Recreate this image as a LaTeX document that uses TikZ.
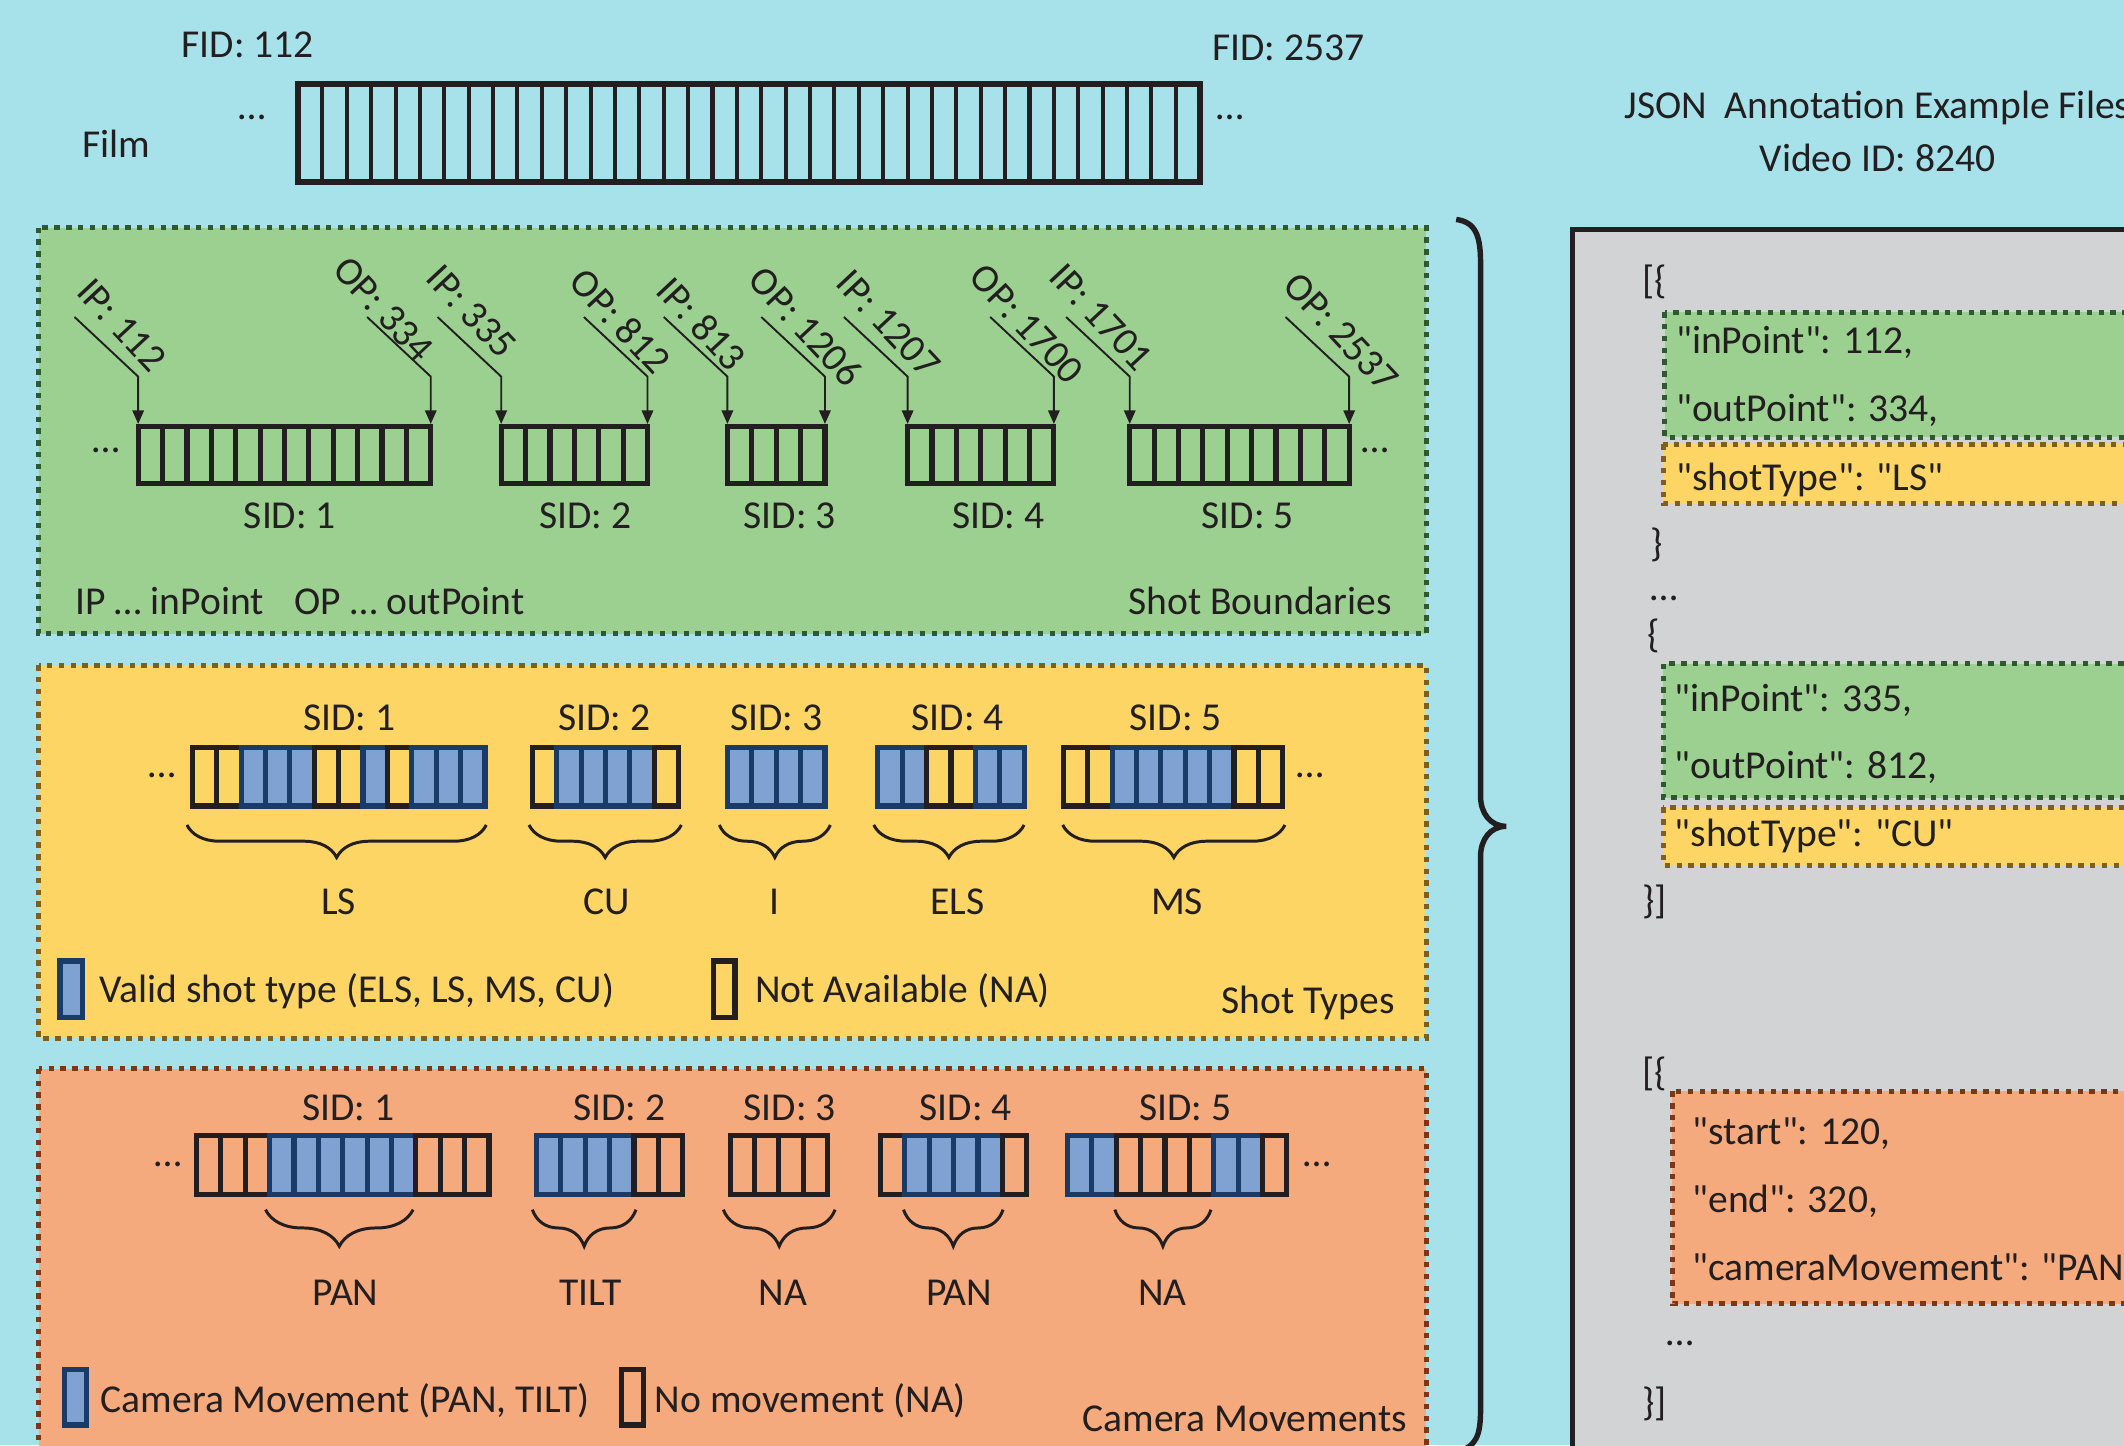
\documentclass[tikz,border=0pt]{standalone}
\usepackage{fontspec}
\setmainfont{Carlito}
\newfontfamily\jfont{Carlito}[Ligatures=TeXOff]
\usetikzlibrary{arrows.meta,decorations.pathreplacing}
\definecolor{bgc}{HTML}{A7E2EB}
\definecolor{grn}{HTML}{9BD091}
\definecolor{grnb}{HTML}{2E5A2E}
\definecolor{yel}{HTML}{FDD565}
\definecolor{yelb}{HTML}{7D5F1E}
\definecolor{org}{HTML}{F5AA7D}
\definecolor{orgb}{HTML}{7D3714}
\definecolor{gry}{HTML}{D1D3D4}
\definecolor{blu}{HTML}{7FA2D2}
\definecolor{nav}{HTML}{1A3A68}
\definecolor{txt}{HTML}{231F20}
\newcommand{\fsz}{\fontsize{14.6pt}{17.5pt}\selectfont}
\newcommand{\cellstrip}[4]{% x0, ytop, ybottom, pattern
  \foreach \c [count=\i from 0] in {#4} {
    \if\c B
      \draw[bcell] (#1+\i*18,#2) rectangle (#1+\i*18+18,#3);
    \else
      \draw[ncell] (#1+\i*18,#2) rectangle (#1+\i*18+18,#3);
    \fi
  }
}
\begin{document}
\begin{tikzpicture}[x=0.5pt,y=-0.5pt,
  lbl/.style={font=\fsz, text=txt, inner sep=0pt, anchor=base},
  lbll/.style={lbl, anchor=base west},
  lblr/.style={lbl, anchor=base east},
  jlbl/.style={font=\fsz\jfont, text=txt, inner sep=0pt, anchor=base west},
  rlbl/.style={font=\fsz, text=txt, inner sep=0pt, rotate=-47, anchor=center},
  ncell/.style={draw=txt, line width=1.9pt},
  bcell/.style={draw=nav, fill=blu, line width=1.9pt},
  arr/.style={draw=txt, line width=0.7pt, -{Triangle[length=5pt,width=4.2pt]}},
  brc/.style={decorate, decoration={brace, mirror, amplitude=#1}, line width=1.1pt, draw=txt},
  panel/.style={line width=1.85pt, dash pattern=on 2pt off 2.36pt},
  panelG/.style={panel, fill=grn, draw=grnb},
  panelY/.style={panel, fill=yel, draw=yelb},
  panelO/.style={panel, fill=org, draw=orgb},
]
\useasboundingbox (0,0) rectangle (1568,1067);
\begin{scope}
\clip (0,0) rectangle (1568,1067);
\fill[bgc] (0,0) rectangle (1568,1067);

% ---------- Film ----------
\node[lbl] (fid1) at (183,42.4) {FID: 112};
\node[lbl] (fid2) at (951,44.4) {FID: 2537};
\node[lbl] (film) at (86,116.4) {Film};
\node[lbl] (fdl) at (186,88) {…};
\node[lbl] (fdr) at (908,88) {…};
\foreach \i in {1,...,36} \draw[line width=1.5pt, txt] (220+\i*18,62) -- (220+\i*18,134.5);
\draw[line width=2.2pt, txt] (220,62) rectangle (886,134.5);

% ---------- JSON title ----------
\node[lbl] (jt1) at (1386,87.4) {JSON\ \ Annotation Example Files};
\node[lbl] (jt2) at (1386,126.4) {Video ID: 8240};

% ---------- Panels ----------
\draw[panelG] (28.5,168) rectangle (1053,468);
\draw[panelY] (28.5,491) rectangle (1053,766.5);
\draw[panelO] (28.5,789) rectangle (1053,1100);

% ---------- Shot boundaries ----------
\cellstrip{102}{315}{357}{N,N,N,N,N,N,N,N,N,N,N,N}
\cellstrip{370}{315}{357}{N,N,N,N,N,N}
\cellstrip{537}{315}{357}{N,N,N,N}
\cellstrip{670}{315}{357}{N,N,N,N,N,N}
\cellstrip{834}{315}{357}{N,N,N,N,N,N,N,N,N}
\foreach \x/\n in {102/a,318/b,370/c,478/d,537/e,609/f,670/g,778/h,834/i,996/j}{
  \coordinate (st\n) at (\x-47,234);
  \coordinate (kn\n) at (\x,278);
  \coordinate (tp\n) at (\x,313);
  \draw[arr] (st\n) -- (kn\n) -- (tp\n);
}
\node[rlbl] (ipa) at (90,240) {IP: 112};
\node[rlbl] (opb) at (283,228) {OP: 334};
\node[rlbl] (ipc) at (348,230) {IP: 335};
\node[rlbl] (opd) at (458,237) {OP: 812};
\node[rlbl] (ipe) at (518,239) {IP: 813};
\node[rlbl] (opf) at (595,241) {OP: 1206};
\node[rlbl] (ipg) at (656,239) {IP: 1207};
\node[rlbl] (oph) at (758,239) {OP: 1700};
\node[rlbl] (ipi) at (813,234) {IP: 1701};
\node[rlbl] (opj) at (990,245) {OP: 2537};
\node[lbl] (gd1) at (78,334) {…};
\node[lbl] (gd2) at (1015,334) {…};
\node[lbl] (gs1) at (214,390.4) {SID: 1};
\node[lbl] (gs2) at (432,390.4) {SID: 2};
\node[lbl] (gs3) at (583,390.4) {SID: 3};
\node[lbl] (gs4) at (737,390.4) {SID: 4};
\node[lbl] (gs5) at (921,390.4) {SID: 5};
\node[lbll] (gl1) at (55,453.4) {IP … inPoint};
\node[lbll] (gl2) at (217,453.4) {OP … outPoint};
\node[lblr] (gl3) at (1028,453.4) {Shot Boundaries};

% ---------- Shot types ----------
\node[lbl] (ys1) at (258,539.4) {SID: 1};
\node[lbl] (ys2) at (446,539.4) {SID: 2};
\node[lbl] (ys3) at (573,539.4) {SID: 3};
\node[lbl] (ys4) at (707,539.4) {SID: 4};
\node[lbl] (ys5) at (868,539.4) {SID: 5};
\node[lbl] (yd1) at (120,574) {…};
\node[lbl] (yd2) at (967,574) {…};
\cellstrip{142}{552}{595}{N,N,B,B,B,N,N,B,N,B,B,B}
\cellstrip{393}{552}{595}{N,B,B,B,B,N}
\cellstrip{537}{552}{595}{B,B,B,B}
\cellstrip{648}{552}{595}{B,B,N,N,B,B}
\cellstrip{785}{552}{595}{N,N,B,B,B,B,B,N,N}
\draw[brc=12pt] (138,609) -- (359,609);
\draw[brc=12pt] (390.5,609) -- (503,609);
\draw[brc=12pt] (531,609) -- (613,609);
\draw[brc=12pt] (645,609) -- (756,609);
\draw[brc=12pt] (784.5,609) -- (948.6,609);
\node[lbl] (yt1) at (250,675.4) {LS};
\node[lbl] (yt2) at (448,675.4) {CU};
\node[lbl] (yt3) at (572,675.4) {I};
\node[lbl] (yt4) at (707,675.4) {ELS};
\node[lbl] (yt5) at (869,675.4) {MS};
\draw[bcell, line width=2pt] (44.4,709.5) rectangle (60.7,751);
\node[lbll] (yl1) at (73,740.4) {Valid shot type (ELS, LS, MS, CU)};
\draw[ncell, line width=2pt] (526.7,709.5) rectangle (542.7,751);
\node[lbll] (yl2) at (557,740.4) {Not Available (NA)};
\node[lblr] (yl3) at (1030,748.4) {Shot Types};

% ---------- Camera movements ----------
\node[lbl] (os1) at (257,827.4) {SID: 1};
\node[lbl] (os2) at (457,827.4) {SID: 2};
\node[lbl] (os3) at (583,827.4) {SID: 3};
\node[lbl] (os4) at (713,827.4) {SID: 4};
\node[lbl] (os5) at (875,827.4) {SID: 5};
\node[lbl] (od1) at (124,861) {…};
\node[lbl] (od2) at (972,861) {…};
\cellstrip{145}{838.5}{882}{N,N,N,B,B,B,B,B,B,N,N,N}
\cellstrip{396}{838.5}{882}{B,B,B,B,N,N}
\cellstrip{539}{838.5}{882}{N,N,N,N}
\cellstrip{650}{838.5}{882}{N,B,B,B,B,N}
\cellstrip{788}{838.5}{882}{B,B,N,N,N,N,B,B,N}
\draw[brc=13.5pt] (196,893) -- (305,893);
\draw[brc=13.5pt] (393,893) -- (469.5,893);
\draw[brc=13.5pt] (534,893) -- (616.5,893);
\draw[brc=13.5pt] (667,893) -- (740.5,893);
\draw[brc=13.5pt] (823,893) -- (894,893);
\node[lbl] (om1) at (255,963.4) {PAN};
\node[lbl] (om2) at (436,963.4) {TILT};
\node[lbl] (om3) at (578,963.4) {NA};
\node[lbl] (om4) at (708,963.4) {PAN};
\node[lbl] (om5) at (858,963.4) {NA};
\draw[bcell, line width=2pt] (47.7,1011) rectangle (64,1052);
\node[lbll] (ol1) at (74,1042.4) {Camera Movement (PAN, TILT)};
\draw[ncell, line width=2pt] (459,1011) rectangle (475,1052);
\node[lbll] (ol2) at (483,1042.4) {No movement (NA)};
\node[lblr] (ol3) at (1039,1056.4) {Camera Movements};

% ---------- Big brace ----------
\draw[txt, line width=2pt] (1075,162) .. controls (1090,164) and (1093,175) .. (1093,195)
  -- (1093,588) .. controls (1093,600) and (1100,610) .. (1112,610)
  .. controls (1100,610) and (1093,620) .. (1093,632)
  -- (1093,1040) .. controls (1093,1060) and (1090,1068) .. (1075,1072);

% ---------- JSON box ----------
\draw[fill=gry, draw=txt, line width=2pt] (1161,169.6) rectangle (1700,1200);
\draw[panelG] (1229,230.5) rectangle (1700,322.7);
\draw[panelY] (1228,328) rectangle (1700,372);
\draw[panelG] (1228,490) rectangle (1700,589);
\draw[panelY] (1228,596) rectangle (1700,638.6);
\draw[panelO] (1234.5,805.6) rectangle (1700,962.6);
\node[jlbl] (j1) at (1212,217) {[\{};
\node[jlbl] (j2) at (1237,261) {"inPoint": 112,};
\node[jlbl] (j3) at (1237,311) {"outPoint": 334,};
\node[jlbl] (j4) at (1237,362) {"shotType": "LS"};
\node[jlbl] (j5) at (1218,411) {\}};
\node[jlbl] (j6) at (1218,443) {…};
\node[jlbl] (j7) at (1216,478) {\{};
\node[jlbl] (j8) at (1236,525) {"inPoint": 335,};
\node[jlbl] (j9) at (1236,575) {"outPoint": 812,};
\node[jlbl] (j10) at (1236,625) {"shotType": "CU"};
\node[jlbl] (j11) at (1212,674) {\}]};
\node[jlbl] (j12) at (1212,801) {[\{};
\node[jlbl] (j13) at (1249,845) {"start": 120,};
\node[jlbl] (j14) at (1249,895) {"end": 320,};
\node[jlbl] (j15) at (1249,945) {"cameraMovement": "PAN"};
\node[jlbl] (j16) at (1230,993) {…};
\node[jlbl] (j17) at (1212,1045) {\}]};
\end{scope}
\end{tikzpicture}
\end{document}
